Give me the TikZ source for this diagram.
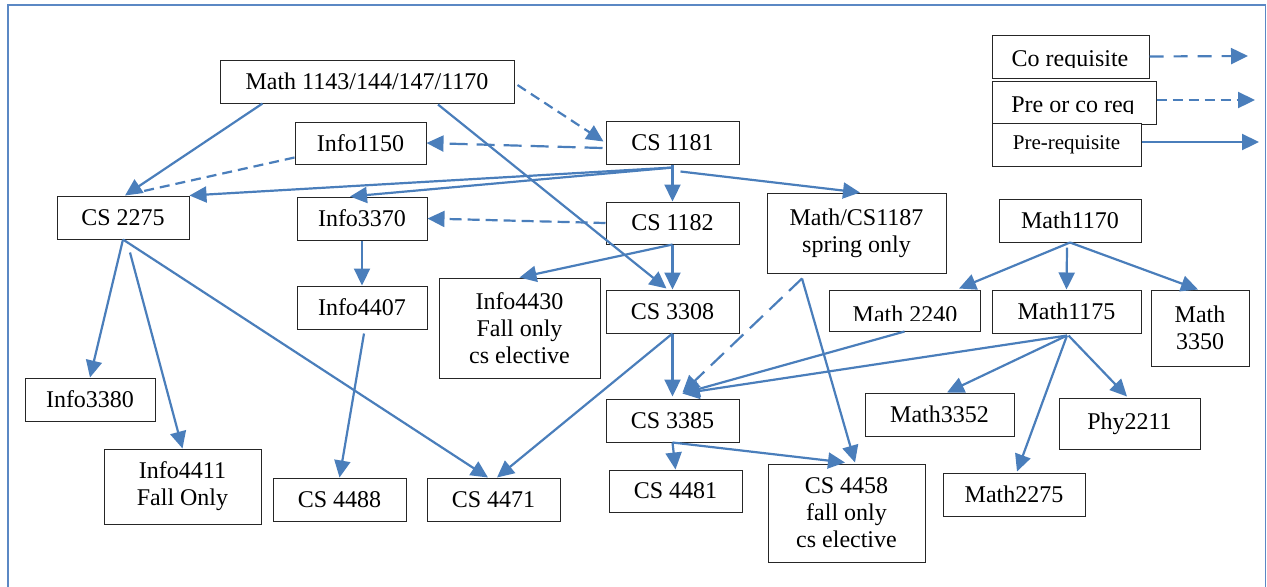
\documentclass[tikz,border=0pt]{standalone}
\usepackage{fontspec}
\setmainfont{Liberation Serif}
\usetikzlibrary{arrows.meta,calc}
\definecolor{lnk}{HTML}{4A7EBB}
\definecolor{frm}{HTML}{5B88C4}
\newcommand\mybox[6]{\node[cbox, minimum width={(#4-#2)*0.5pt}, minimum height={(#5-#3)*0.5pt}] (#1) at ({(#2+#4)/2},{(#3+#5)/2}) {#6};}
\tikzset{
  cbox/.style={draw=black!85, line width=0.5pt, fill=white, inner sep=0pt, align=center, font=\fontsize{12}{13.5}\selectfont},
  txt/.style={inner sep=0pt, font=\fontsize{12}{13.5}\selectfont},
  lnbase/.style={draw=lnk, line width=1.1pt},
  lnpre/.style={lnbase, -{Triangle[length=8.5pt,width=8pt]}},
  lnco/.style={lnpre, dash pattern=on 9pt off 4.5pt},
  lnpc/.style={lnpre, dash pattern=on 5pt off 3pt},
}
\begin{document}
\begin{tikzpicture}[x=0.5pt,y=-0.5pt]
\useasboundingbox (0,0) rectangle (1267,586);
\draw[frm, line width=0.9pt] (8,590) -- (8,5) -- (1265.5,5) -- (1265.5,590);

% nodes
\mybox{math}{220}{60}{514}{103}{Math 1143/144/147/1170}
\mybox{info1150}{295}{122}{426}{164}{Info1150}
\mybox{cs1181}{606}{121}{739}{164}{CS 1181}
\mybox{cs2275}{57}{196}{189}{239}{CS 2275}
\mybox{info3370}{297}{197}{427}{240}{Info3370}
\mybox{cs1182}{606}{202}{739}{244}{CS 1182}
\mybox{m1187}{767}{193}{946}{273}{Math/CS1187\\spring only}
\mybox{m1170}{999}{199}{1141}{242}{Math1170}
\mybox{m2240}{829}{290}{980}{331}{}
\begin{scope}\clip (829,290) rectangle (980,320);
\node[txt, anchor=base] (m2240t) at (905,322.5) {Math 2240};
\end{scope}
\mybox{m1175}{992}{290}{1141}{333}{Math1175}
\mybox{m3350}{1151}{290}{1249}{366}{Math\\3350}
\mybox{m3352}{865}{393}{1014}{436}{Math3352}
\mybox{phy}{1059}{398}{1200}{449}{Phy2211}
\mybox{m2275}{943}{473}{1085}{516}{Math2275}
\mybox{cs4458}{768}{464}{925}{562}{CS 4458\\fall only\\cs elective}
\mybox{info4407}{297}{286}{427}{329}{Info4407}
\mybox{info4430}{439}{278}{600}{378}{Info4430\\Fall only\\cs elective}
\mybox{cs3308}{606}{290}{739}{333}{CS 3308}
\mybox{cs3385}{606}{399}{739}{442}{CS 3385}
\mybox{cs4481}{609}{470}{742}{512}{CS 4481}
\mybox{cs4471}{427}{478}{560}{521}{CS 4471}
\mybox{cs4488}{273}{478}{406}{521}{CS 4488}
\mybox{info3380}{25}{378}{155}{421}{Info3380}
\mybox{info4411}{104}{449}{261}{524}{Info4411\\Fall Only}

% legend
\mybox{legco}{992}{35}{1149}{78}{}
\begin{scope}\clip (992,35) rectangle (1149,67.5);
\node[txt, anchor=base] (legcot) at (1070,66.5) {Co requisite};
\end{scope}
\mybox{legpc}{992}{81}{1156}{124}{}
\begin{scope}\clip (992,81) rectangle (1156,113.3);
\node[txt, anchor=base] (legpct) at (1073,112.6) {Pre or co req};
\end{scope}
\mybox{legpr}{992}{123}{1141}{166}{\fontsize{10.5}{12}\selectfont Pre-requisite}
\coordinate (legcoE) at (1248,56);
\coordinate (legpcE) at (1255,100);
\coordinate (legprE) at (1259,142);
\draw[lnpre, dash pattern=on 7pt off 5pt] (legco.east) -- (legcoE);
\draw[lnpc] ($(legpc.east)+(0,-2.5)$) -- (legpcE);
\draw[lnpre] ($(legpr.east)+(0,-2.5)$) -- (legprE);

% connectors
\draw[lnpre] ($(math.south west)+(43,0)$) -- ($(cs2275.north)+(2,0)$);
\draw[lnbase, dash pattern=on 5pt off 3pt] ($(info1150.south west)+(0,-7)$) -- ($(cs2275.north)+(14,-3)$);
\draw[lnpre] ($(cs1181.south)+(0.5,3)$) -- (cs2275.north east);
\draw[lnpre] ($(cs1181.south)+(0.5,3)$) -- ($(info3370.north)+(-12,0)$);
\draw[lnpre] (cs1181.south) -- (cs1182.north);
\draw[lnpre] ($(cs1181.south)+(8,7)$) -- ($(m1187.north)+(3.5,0)$);
\draw[lnpc] ($(math.east)+(3,3.5)$) -- ($(cs1181.west)+(-2,-1)$);
\draw[lnco] ($(cs1181.west)+(-3,5.5)$) -- (info1150.east);
\draw[lnpre] ($(math.south)+(71,1)$) -- ($(cs3308.north)+(-6,-1)$);
\draw[lnpre, dash pattern=on 6pt off 3pt] (cs1182.west) -- (info3370.east);
\draw[lnpre] (cs1182.south) -- (info4430.north);
\draw[lnpre] (cs1182.south) -- (cs3308.north);
\draw[lnpre] (info3370.south) -- (info4407.north);
\draw[lnpre] (cs2275.south) -- (info3380.north);
\draw[lnpre] ($(cs2275.south)+(7,13)$) -- (info4411.north);
\draw[lnpre] (cs2275.south) -- ($(cs4471.north)+(-5.5,0)$);
\draw[lnpre] ($(info4407.south)+(2,4)$) -- (cs4488.north);
\draw[lnpre] (cs3308.south) -- ($(cs4471.north)+(3.5,0)$);
\draw[lnpre] (cs3308.south) -- ($(cs3385.north)+(0,-2)$);
\draw[lnco] ($(m1187.south)+(-54.5,5)$) -- ($(cs3385.north)+(10,-6)$);
\draw[lnpre] ($(m1187.south)+(-54.5,5)$) -- ($(cs4458.north)+(8.5,-1)$);
\draw[lnpre] (m2240.south) -- ($(cs3385.north)+(10,-5)$);
\draw[lnpre] ($(m1175.south)+(0.5,2)$) -- ($(cs3385.north)+(10,-5)$);
\draw[lnpre] ($(m1175.south)+(0.5,2)$) -- ($(m3352.north)+(7.5,0)$);
\draw[lnpre] ($(m1175.south)+(0.5,2)$) -- ($(m2275.north)+(3,-1)$);
\draw[lnpre] ($(m1175.south)+(2,2)$) -- ($(phy.north)+(-2.5,-1)$);
\draw[lnpre] (m1170.south) -- ($(m2240.north)+(54.5,-1)$);
\draw[lnpre] ($(m1170.south)+(-3,5)$) -- (m1175.north);
\draw[lnpre] (m1170.south) -- ($(m3350.north)+(-2,0)$);
\draw[lnpre] (cs3385.south) -- (cs4481.north);
\draw[lnpre] (cs3385.south) -- ($(cs4458.north)+(-1.5,-1)$);
\end{tikzpicture}
\end{document}
